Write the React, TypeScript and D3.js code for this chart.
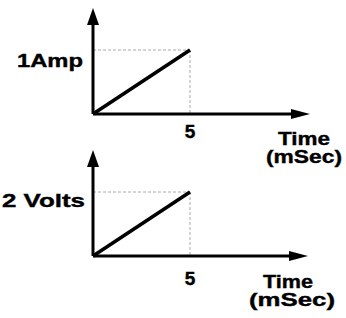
import React from 'react';
import * as d3 from 'd3';

// ramp inputs: value reached at t = 5 ms
const times = [0, 5];
const currentAmp = [0, 1];
const voltageV = [0, 2];

const yLabels = ['1Amp', '2 Volts'];
const xTickLabel = '5';
const xTitle = ['Time', '(mSec)'];

const width = 346;
const height = 318;

interface PanelProps {
    values: number[];
    yLabel: string;
    originY: number;
    topY: number;
    yMax: number;
    yLabelBox: [number, number, number];
    tickY: number;
    titleBoxes: [number, number, number][];
    xEnd: number;
}

const Panel = ({ values, yLabel, originY, topY, yMax, yLabelBox, tickY, titleBoxes, xEnd }: PanelProps) => {
    const xScale = d3.scaleLinear().domain([0, 5]).range([93, 190]);
    const yScale = d3.scaleLinear().domain([0, yMax]).range([originY, originY - 64]);

    const pts: [number, number][] = times.map((t, i) => [xScale(t), yScale(values[i])]);
    const line = d3.line<[number, number]>()(pts) || '';

    const x0 = xScale(0);
    const lastX = xScale(times[1]);
    const lastY = yScale(values[1]);
    const font = {
        fontFamily: 'Liberation Sans, Arial, sans-serif', fontWeight: 700, fontSize: 19,
        stroke: '#000', strokeWidth: 0.4,
    };

    return (
        <g>
            {/* guide lines */}
            <line x1={x0} y1={lastY} x2={lastX} y2={lastY} stroke="#aaa" strokeWidth={1} strokeDasharray="3,2" />
            <line x1={lastX} y1={lastY} x2={lastX} y2={originY} stroke="#aaa" strokeWidth={1} strokeDasharray="3,2" />

            {/* axes */}
            <line x1={x0} y1={originY} x2={x0} y2={topY + 14} stroke="#000" strokeWidth={3} />
            <path d={`M${x0},${topY} L${x0 - 6},${topY + 17} L${x0 + 6},${topY + 17} Z`} fill="#000" />
            <line x1={x0} y1={originY} x2={xEnd - 14} y2={originY} stroke="#000" strokeWidth={3} />
            <path d={`M${xEnd},${originY} L${xEnd - 19},${originY - 5} L${xEnd - 19},${originY + 5} Z`} fill="#000" />

            {/* ramp */}
            <path d={line} fill="none" stroke="#000" strokeWidth={3.5} />

            <text x={yLabelBox[0]} y={yLabelBox[1]} textLength={yLabelBox[2]} lengthAdjust="spacingAndGlyphs" style={font}>
                {yLabel}
            </text>
            <text x={lastX} y={tickY} textAnchor="middle" style={font}>
                {xTickLabel}
            </text>
            {xTitle.map((s, i) => (
                <text key={s} x={titleBoxes[i][0]} y={titleBoxes[i][1]} textLength={titleBoxes[i][2]}
                    lengthAdjust="spacingAndGlyphs" style={font}>
                    {s}
                </text>
            ))}
        </g>
    );
};

const App = () => {
    return (
        <svg width={width} height={height} style={{ position: 'absolute', left: 0, top: 0, background: '#fff' }}>
            <rect width={width} height={height} fill="#fff" />
            <Panel values={currentAmp} yLabel={yLabels[0]} originY={114} topY={8} yMax={1}
                yLabelBox={[17, 67, 66]} tickY={138} xEnd={310}
                titleBoxes={[[278, 145, 52], [266, 163, 76]]} />
            <Panel values={voltageV} yLabel={yLabels[1]} originY={256} topY={150} yMax={2}
                yLabelBox={[2, 207, 83]} tickY={285} xEnd={308}
                titleBoxes={[[263, 288, 50], [249, 306, 86]]} />
        </svg>
    );
};

export default App;
